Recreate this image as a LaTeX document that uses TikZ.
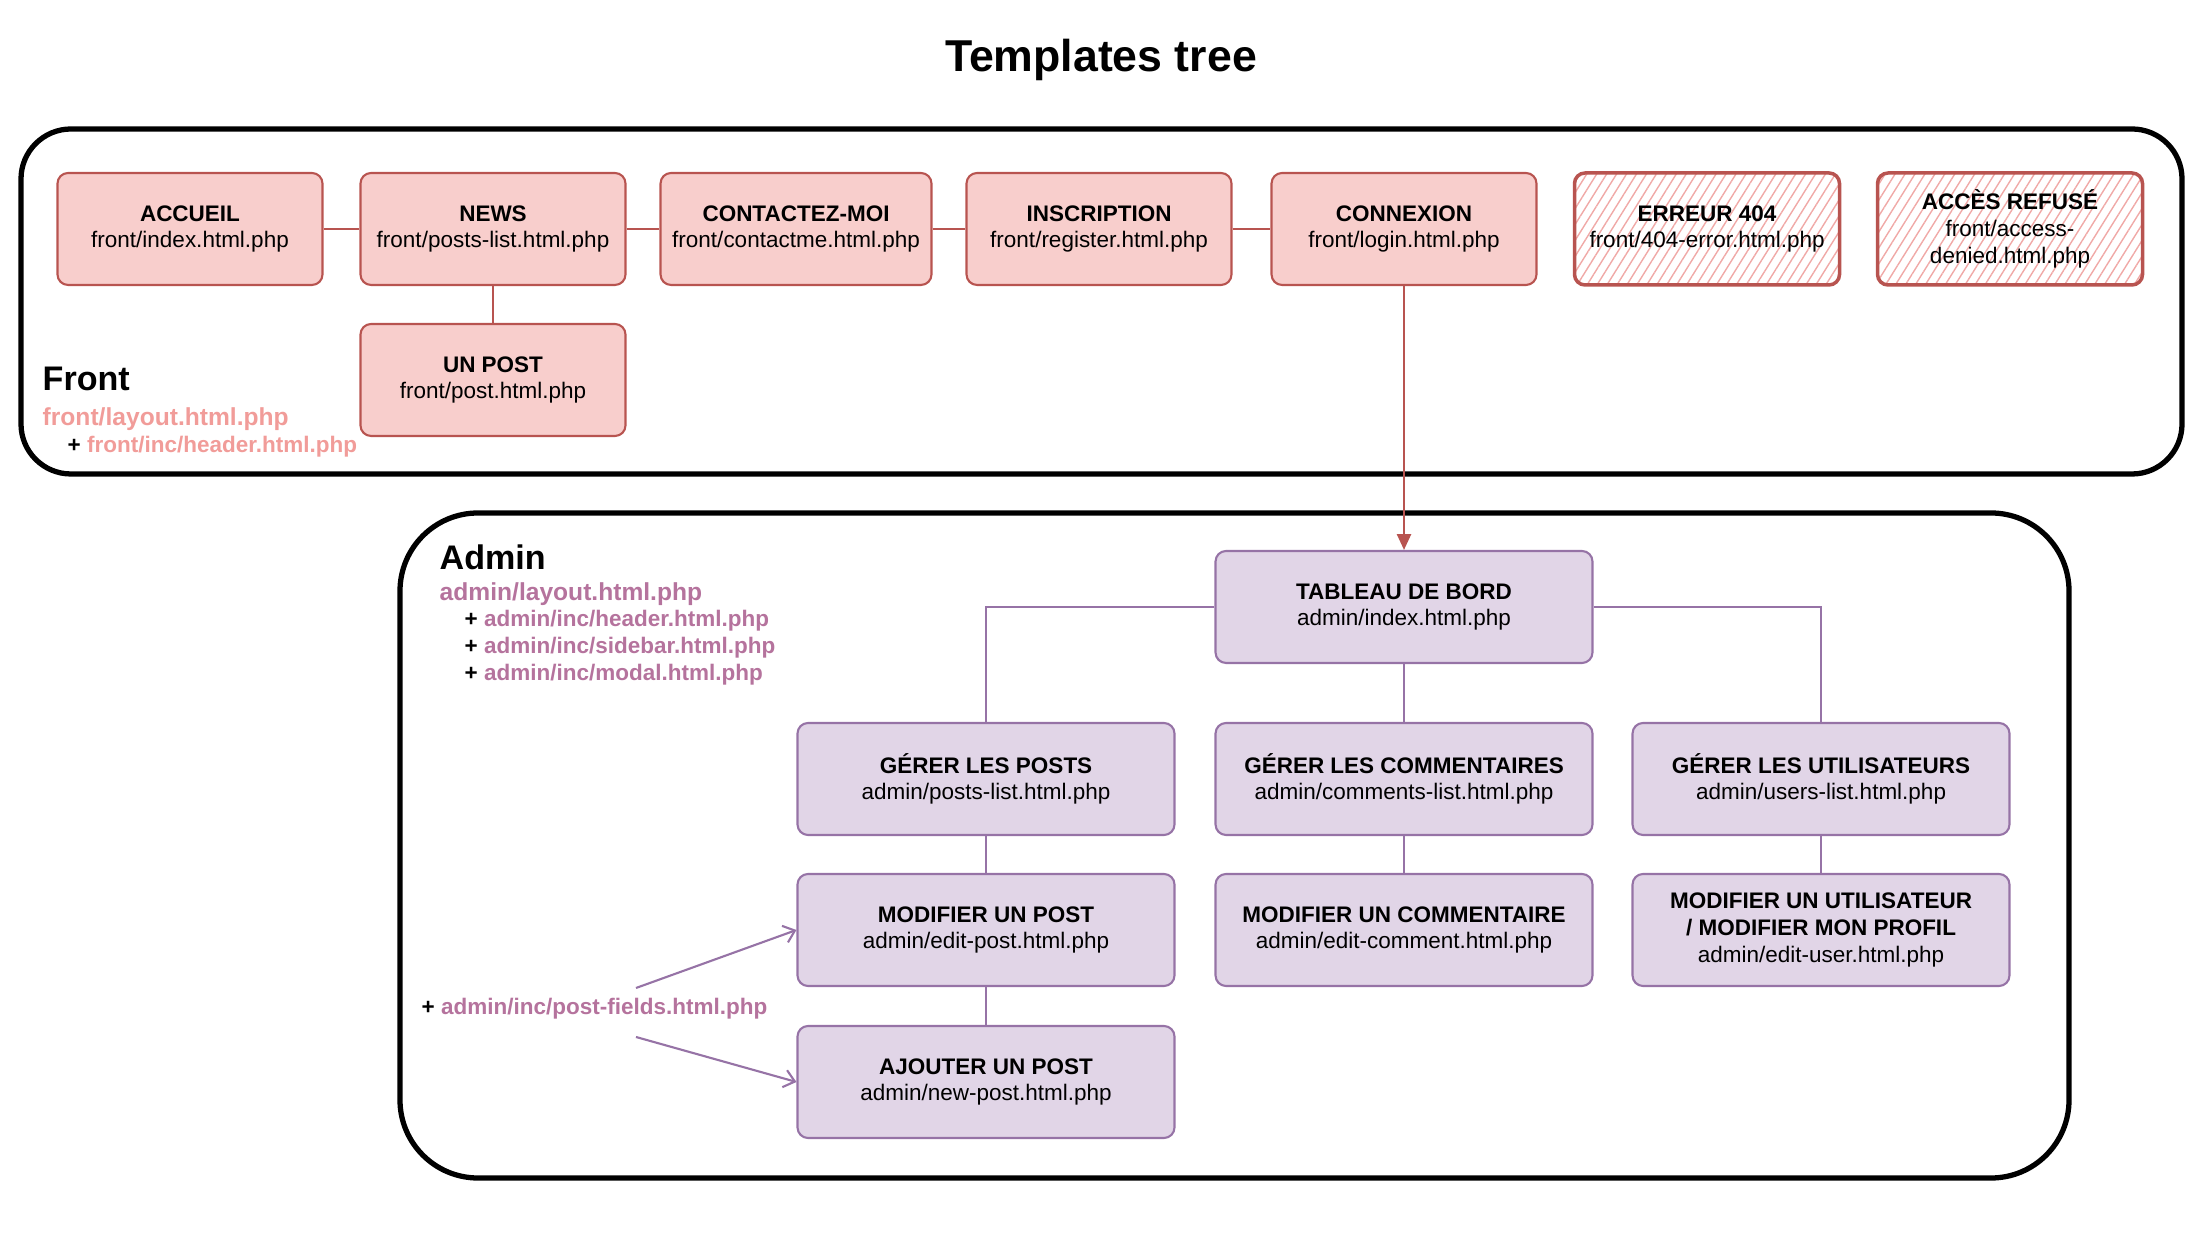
\documentclass[tikz,border=0pt]{standalone}
\usepackage{fontspec}
\setmainfont{Liberation Sans}
\usetikzlibrary{arrows.meta,patterns.meta}

\definecolor{frontfill}{HTML}{F8CECC}
\definecolor{frontline}{HTML}{B85450}
\definecolor{frontlabel}{HTML}{F19C99}
\definecolor{adminfill}{HTML}{E1D5E7}
\definecolor{adminline}{HTML}{9673A6}
\definecolor{adminlabel}{HTML}{B5739D}
\definecolor{hatchcolor}{HTML}{F0A9A7}

\newcommand{\boxfont}{\fontsize{6.4}{7.6}\selectfont}

\tikzset{
 area/.style={draw=black, line width=1.5pt},
 frontbox/.style={draw=frontline, fill=frontfill, line width=0.6pt, rounded corners=3pt,
   minimum width=2.65cm, minimum height=1.12cm, align=center, font=\boxfont},
 errorbox/.style={frontbox, fill=none, line width=1pt,
   pattern={Lines[angle=58,distance=2.4pt,line width=0.4pt]}, pattern color=hatchcolor},
 adminbox/.style={draw=adminline, fill=adminfill, line width=0.6pt, rounded corners=3pt,
   minimum width=3.77cm, minimum height=1.12cm, align=center, font=\boxfont},
 frontlink/.style={draw=frontline, line width=0.6pt},
 adminlink/.style={draw=adminline, line width=0.6pt},
 areaname/.style={anchor=west, inner sep=0pt, font=\fontsize{9.7}{11}\selectfont\bfseries},
 layoutname/.style={anchor=west, inner sep=0pt, font=\fontsize{7}{8}\selectfont\bfseries},
 incname/.style={anchor=west, inner sep=0pt, font=\boxfont\bfseries}
}

\begin{document}
\begin{tikzpicture}
 \useasboundingbox (0,0) rectangle (22,12.33);
 \node[font=\fontsize{12.7}{14}\selectfont\bfseries] (title) at (11.01,11.73) {Templates tree};

 % areas
 \draw[area, rounded corners=0.5cm] (0.21,7.59) rectangle (21.82,11.04);
 \draw[area, rounded corners=0.78cm] (4.00,0.55) rectangle (20.69,7.20);

 % front
 \node[frontbox] (accueil) at (1.90,10.04) {\textbf{ACCUEIL}\\front/index.html.php};
 \node[frontbox] (news) at (4.93,10.04) {\textbf{NEWS}\\front/posts-list.html.php};
 \node[frontbox] (contact) at (7.96,10.04) {\textbf{CONTACTEZ-MOI}\\front/contactme.html.php};
 \node[frontbox] (register) at (10.99,10.04) {\textbf{INSCRIPTION}\\front/register.html.php};
 \node[frontbox] (login) at (14.04,10.04) {\textbf{CONNEXION}\\front/login.html.php};
 \node[errorbox] (error) at (17.07,10.04) {\textbf{ERREUR 404}\\front/404-error.html.php};
 \node[errorbox] (denied) at (20.10,10.04) {\textbf{ACCÈS REFUSÉ}\\front/access-\\denied.html.php};
 \node[frontbox] (post) at (4.93,8.53) {\textbf{UN POST}\\front/post.html.php};

 \node[areaname] (front) at (0.42,8.54) {Front};
 \node[layoutname] (frontlayout) at (0.42,8.14) {\textcolor{frontlabel}{front/layout.html.php}};
 \node[incname] (frontheader) at (0.67,7.86) {+ \textcolor{frontlabel}{front/inc/header.html.php}};

 \draw[frontlink] (accueil) -- (news);
 \draw[frontlink] (news) -- (contact);
 \draw[frontlink] (contact) -- (register);
 \draw[frontlink] (register) -- (login);
 \draw[frontlink] (news) -- (post);

 % admin
 \node[adminbox] (dashboard) at (14.04,6.26) {\textbf{TABLEAU DE BORD}\\admin/index.html.php};
 \node[adminbox] (posts) at (9.86,4.54) {\textbf{GÉRER LES POSTS}\\admin/posts-list.html.php};
 \node[adminbox] (comments) at (14.04,4.54) {\textbf{GÉRER LES COMMENTAIRES}\\admin/comments-list.html.php};
 \node[adminbox] (users) at (18.21,4.54) {\textbf{GÉRER LES UTILISATEURS}\\admin/users-list.html.php};
 \node[adminbox] (editpost) at (9.86,3.03) {\textbf{MODIFIER UN POST}\\admin/edit-post.html.php};
 \node[adminbox] (editcomment) at (14.04,3.03) {\textbf{MODIFIER UN COMMENTAIRE}\\admin/edit-comment.html.php};
 \node[adminbox] (edituser) at (18.21,3.03) {\textbf{MODIFIER UN UTILISATEUR}\\\textbf{/ MODIFIER MON PROFIL}\\admin/edit-user.html.php};
 \node[adminbox] (newpost) at (9.86,1.51) {\textbf{AJOUTER UN POST}\\admin/new-post.html.php};

 \node[areaname] (admin) at (4.39,6.76) {Admin};
 \node[layoutname] (adminlayout) at (4.39,6.39) {\textcolor{adminlabel}{admin/layout.html.php}};
 \node[incname] (adminheader) at (4.64,6.12) {+ \textcolor{adminlabel}{admin/inc/header.html.php}};
 \node[incname] (adminsidebar) at (4.64,5.85) {+ \textcolor{adminlabel}{admin/inc/sidebar.html.php}};
 \node[incname] (adminmodal) at (4.64,5.58) {+ \textcolor{adminlabel}{admin/inc/modal.html.php}};
 \node[incname] (postfields) at (4.21,2.24) {+ \textcolor{adminlabel}{admin/inc/post-fields.html.php}};

 \draw[adminlink] (dashboard.west) -| (posts.north);
 \draw[adminlink] (dashboard.east) -| (users.north);
 \draw[adminlink] (dashboard) -- (comments);
 \draw[adminlink] (posts) -- (editpost);
 \draw[adminlink] (comments) -- (editcomment);
 \draw[adminlink] (users) -- (edituser);
 \draw[adminlink] (editpost) -- (newpost);

 \coordinate (fieldsup) at (6.36,2.45);
 \coordinate (fieldsdown) at (6.36,1.96);
 \draw[adminlink, -{Straight Barb[length=3pt,width=5pt]}] (fieldsup) -- (editpost.west);
 \draw[adminlink, -{Straight Barb[length=3pt,width=5pt]}] (fieldsdown) -- (newpost.west);

 % login leads to the dashboard
 \draw[frontlink, -{Triangle[length=4.5pt,width=4pt]}] (login) -- (dashboard);
\end{tikzpicture}
\end{document}
